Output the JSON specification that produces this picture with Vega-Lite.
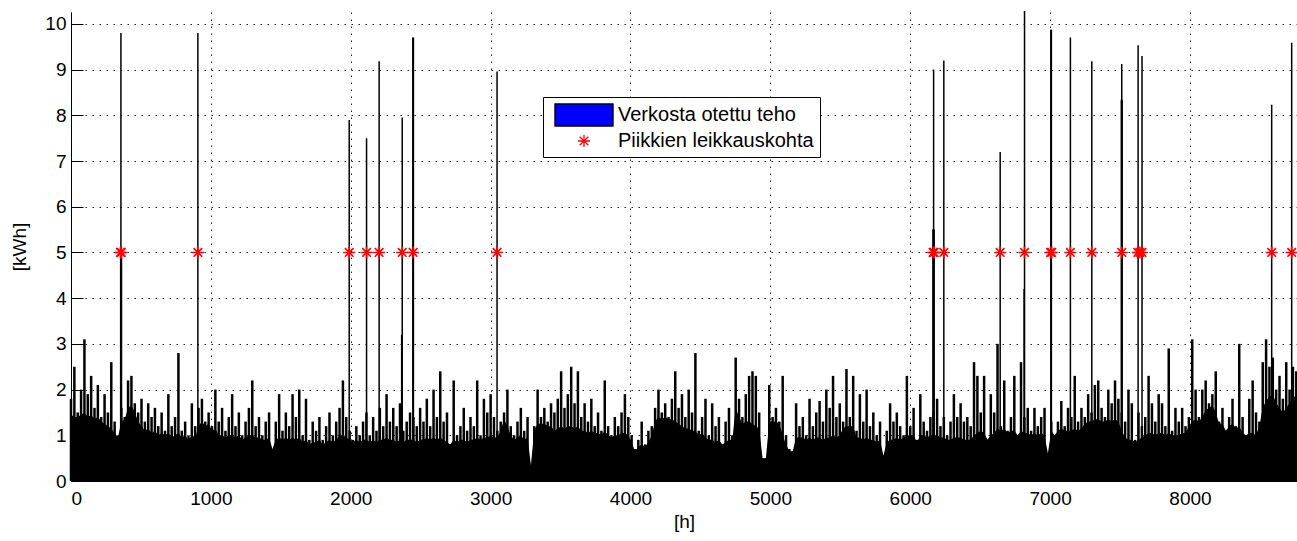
{
  "$schema": "https://vega.github.io/schema/vega-lite/v6.json",
  "width": 1226,
  "height": 469,
  "autosize": {"type": "none"},
  "padding": {"left": 71, "top": 12, "right": 0, "bottom": 60},
  "background": "white",
  "datasets": {
    "hourly": [
      {"h":0,"hi":1.8,"lo":1.45},{"h":24,"hi":2.5,"lo":1.4},{"h":48,"hi":1.5,"lo":1.4},{"h":72,"hi":2.0,"lo":1.45},{"h":96,"hi":3.1,"lo":1.5},{"h":120,"hi":1.9,"lo":1.4},{"h":144,"hi":2.3,"lo":1.45},{"h":168,"hi":1.6,"lo":1.35},{"h":192,"hi":2.1,"lo":1.4},{"h":216,"hi":1.4,"lo":1.3},
      {"h":240,"hi":1.9,"lo":1.25},{"h":264,"hi":1.5,"lo":1.2},{"h":288,"hi":2.6,"lo":1.15},{"h":312,"hi":1.3,"lo":1.05},{"h":336,"hi":1.0,"lo":0.95},{"h":360,"hi":1.6,"lo":1.3},{"h":384,"hi":1.4,"lo":1.35},{"h":408,"hi":2.2,"lo":1.6},{"h":432,"hi":2.3,"lo":1.65},{"h":456,"hi":1.7,"lo":1.5},
      {"h":480,"hi":1.5,"lo":1.3},{"h":504,"hi":1.8,"lo":1.2},{"h":528,"hi":1.3,"lo":1.1},{"h":552,"hi":1.7,"lo":1.15},{"h":576,"hi":1.4,"lo":1.05},{"h":600,"hi":1.6,"lo":1.1},{"h":624,"hi":1.2,"lo":1.0},{"h":648,"hi":1.5,"lo":1.05},{"h":672,"hi":1.1,"lo":1.0},{"h":696,"hi":1.9,"lo":1.05},
      {"h":720,"hi":1.2,"lo":0.95},{"h":744,"hi":1.4,"lo":1.0},{"h":768,"hi":2.8,"lo":1.05},{"h":792,"hi":1.1,"lo":0.95},{"h":816,"hi":1.3,"lo":1.0},{"h":840,"hi":1.0,"lo":0.9},{"h":864,"hi":1.7,"lo":1.0},{"h":888,"hi":1.2,"lo":0.95},{"h":912,"hi":1.6,"lo":1.2},{"h":936,"hi":1.8,"lo":1.3},
      {"h":960,"hi":1.3,"lo":1.2},{"h":984,"hi":1.5,"lo":1.25},{"h":1008,"hi":1.2,"lo":1.1},{"h":1032,"hi":2.0,"lo":1.15},{"h":1056,"hi":1.3,"lo":1.0},{"h":1080,"hi":1.6,"lo":1.0},{"h":1104,"hi":1.1,"lo":0.95},{"h":1128,"hi":1.4,"lo":1.0},{"h":1152,"hi":1.9,"lo":1.0},{"h":1176,"hi":1.2,"lo":0.95},
      {"h":1200,"hi":1.5,"lo":1.0},{"h":1224,"hi":1.0,"lo":0.9},{"h":1248,"hi":1.3,"lo":0.95},{"h":1272,"hi":1.6,"lo":1.0},{"h":1296,"hi":2.2,"lo":1.0},{"h":1320,"hi":1.2,"lo":0.95},{"h":1344,"hi":1.4,"lo":0.95},{"h":1368,"hi":1.0,"lo":0.9},{"h":1392,"hi":1.3,"lo":0.9},{"h":1416,"hi":1.5,"lo":0.95},
      {"h":1440,"hi":0.7,"lo":0.7},{"h":1464,"hi":1.3,"lo":0.9},{"h":1488,"hi":1.9,"lo":0.95},{"h":1512,"hi":1.1,"lo":0.9},{"h":1536,"hi":1.5,"lo":0.95},{"h":1560,"hi":1.2,"lo":0.9},{"h":1584,"hi":1.9,"lo":0.95},{"h":1608,"hi":1.4,"lo":0.9},{"h":1632,"hi":2.0,"lo":0.95},{"h":1656,"hi":1.0,"lo":0.85},
      {"h":1680,"hi":1.8,"lo":0.9},{"h":1704,"hi":0.9,"lo":0.8},{"h":1728,"hi":1.3,"lo":0.85},{"h":1752,"hi":1.1,"lo":0.85},{"h":1776,"hi":1.4,"lo":0.9},{"h":1800,"hi":0.9,"lo":0.8},{"h":1824,"hi":1.2,"lo":0.85},{"h":1848,"hi":1.5,"lo":0.9},{"h":1872,"hi":1.0,"lo":0.85},{"h":1896,"hi":1.3,"lo":0.9},
      {"h":1920,"hi":1.6,"lo":1.0},{"h":1944,"hi":2.2,"lo":1.0},{"h":1968,"hi":1.4,"lo":0.95},{"h":1992,"hi":1.1,"lo":0.9},{"h":2016,"hi":0.9,"lo":0.85},{"h":2040,"hi":1.2,"lo":0.9},{"h":2064,"hi":1.0,"lo":0.85},{"h":2088,"hi":1.3,"lo":0.9},{"h":2112,"hi":1.5,"lo":0.9},{"h":2136,"hi":1.0,"lo":0.85},
      {"h":2160,"hi":1.4,"lo":0.9},{"h":2184,"hi":1.1,"lo":0.85},{"h":2208,"hi":1.6,"lo":0.9},{"h":2232,"hi":1.2,"lo":0.9},{"h":2256,"hi":1.9,"lo":0.95},{"h":2280,"hi":1.3,"lo":0.9},{"h":2304,"hi":1.6,"lo":0.9},{"h":2328,"hi":1.2,"lo":0.85},{"h":2352,"hi":1.7,"lo":0.9},{"h":2376,"hi":1.1,"lo":0.85},
      {"h":2400,"hi":1.3,"lo":0.9},{"h":2424,"hi":1.5,"lo":0.9},{"h":2448,"hi":1.4,"lo":0.9},{"h":2472,"hi":1.2,"lo":0.85},{"h":2496,"hi":1.6,"lo":0.9},{"h":2520,"hi":1.3,"lo":0.9},{"h":2544,"hi":1.8,"lo":0.95},{"h":2568,"hi":1.2,"lo":0.9},{"h":2592,"hi":2.0,"lo":0.95},{"h":2616,"hi":1.4,"lo":0.9},
      {"h":2640,"hi":2.4,"lo":0.95},{"h":2664,"hi":1.3,"lo":0.9},{"h":2688,"hi":1.5,"lo":0.85},{"h":2712,"hi":0.8,"lo":0.8},{"h":2736,"hi":2.2,"lo":0.9},{"h":2760,"hi":1.0,"lo":0.85},{"h":2784,"hi":1.2,"lo":0.9},{"h":2808,"hi":1.6,"lo":0.9},{"h":2832,"hi":1.1,"lo":0.85},{"h":2856,"hi":1.4,"lo":0.9},
      {"h":2880,"hi":1.2,"lo":0.9},{"h":2904,"hi":2.2,"lo":0.95},{"h":2928,"hi":1.0,"lo":0.9},{"h":2952,"hi":1.8,"lo":0.95},{"h":2976,"hi":1.5,"lo":0.95},{"h":3000,"hi":1.9,"lo":1.0},{"h":3024,"hi":1.4,"lo":0.95},{"h":3048,"hi":1.1,"lo":0.95},{"h":3072,"hi":1.3,"lo":1.1},{"h":3096,"hi":1.5,"lo":1.35},
      {"h":3120,"hi":2.0,"lo":1.2},{"h":3144,"hi":1.2,"lo":1.0},{"h":3168,"hi":1.0,"lo":0.9},{"h":3192,"hi":1.3,"lo":0.95},{"h":3216,"hi":1.6,"lo":1.0},{"h":3240,"hi":1.1,"lo":0.9},{"h":3264,"hi":1.4,"lo":0.95},{"h":3288,"hi":0.35,"lo":0.35},{"h":3312,"hi":1.2,"lo":1.1},{"h":3336,"hi":2.0,"lo":1.25},
      {"h":3360,"hi":1.4,"lo":1.25},{"h":3384,"hi":1.6,"lo":1.25},{"h":3408,"hi":1.3,"lo":1.2},{"h":3432,"hi":1.7,"lo":1.2},{"h":3456,"hi":1.5,"lo":1.1},{"h":3480,"hi":1.8,"lo":1.15},{"h":3504,"hi":2.4,"lo":1.2},{"h":3528,"hi":1.6,"lo":1.15},{"h":3552,"hi":1.9,"lo":1.2},{"h":3576,"hi":2.5,"lo":1.2},
      {"h":3600,"hi":1.7,"lo":1.15},{"h":3624,"hi":2.4,"lo":1.2},{"h":3648,"hi":1.4,"lo":1.1},{"h":3672,"hi":1.7,"lo":1.1},{"h":3696,"hi":1.3,"lo":1.05},{"h":3720,"hi":1.8,"lo":1.1},{"h":3744,"hi":1.2,"lo":1.05},{"h":3768,"hi":1.5,"lo":1.05},{"h":3792,"hi":1.1,"lo":1.0},{"h":3816,"hi":2.2,"lo":1.1},
      {"h":3840,"hi":1.2,"lo":1.0},{"h":3864,"hi":1.0,"lo":0.95},{"h":3888,"hi":1.4,"lo":1.0},{"h":3912,"hi":1.2,"lo":1.0},{"h":3936,"hi":1.5,"lo":1.05},{"h":3960,"hi":1.9,"lo":1.05},{"h":3984,"hi":1.4,"lo":1.0},{"h":4008,"hi":1.0,"lo":0.85},{"h":4032,"hi":0.7,"lo":0.65},{"h":4056,"hi":0.9,"lo":0.75},
      {"h":4080,"hi":1.3,"lo":0.8},{"h":4104,"hi":0.8,"lo":0.75},{"h":4128,"hi":1.1,"lo":0.85},{"h":4152,"hi":1.2,"lo":1.0},{"h":4176,"hi":1.6,"lo":1.3},{"h":4200,"hi":2.0,"lo":1.4},{"h":4224,"hi":1.5,"lo":1.35},{"h":4248,"hi":1.7,"lo":1.4},{"h":4272,"hi":1.4,"lo":1.35},{"h":4296,"hi":1.8,"lo":1.35},
      {"h":4320,"hi":2.4,"lo":1.3},{"h":4344,"hi":1.6,"lo":1.25},{"h":4368,"hi":1.9,"lo":1.2},{"h":4392,"hi":1.4,"lo":1.15},{"h":4416,"hi":2.0,"lo":1.15},{"h":4440,"hi":1.5,"lo":1.1},{"h":4464,"hi":2.8,"lo":1.1},{"h":4488,"hi":1.1,"lo":1.0},{"h":4512,"hi":1.4,"lo":1.05},{"h":4536,"hi":1.8,"lo":0.95},
      {"h":4560,"hi":1.0,"lo":0.9},{"h":4584,"hi":1.7,"lo":0.9},{"h":4608,"hi":1.2,"lo":0.85},{"h":4632,"hi":1.4,"lo":0.9},{"h":4656,"hi":0.8,"lo":0.8},{"h":4680,"hi":1.3,"lo":0.85},{"h":4704,"hi":1.6,"lo":0.9},{"h":4728,"hi":1.0,"lo":0.9},{"h":4752,"hi":2.7,"lo":1.6},{"h":4776,"hi":1.8,"lo":1.4},
      {"h":4800,"hi":1.4,"lo":1.25},{"h":4824,"hi":1.9,"lo":1.3},{"h":4848,"hi":2.3,"lo":1.3},{"h":4872,"hi":2.4,"lo":1.25},{"h":4896,"hi":2.3,"lo":1.2},{"h":4920,"hi":1.5,"lo":1.15},{"h":4944,"hi":0.5,"lo":0.5},{"h":4968,"hi":0.5,"lo":0.5},{"h":4992,"hi":2.1,"lo":1.3},{"h":5016,"hi":1.4,"lo":1.3},
      {"h":5040,"hi":1.6,"lo":1.3},{"h":5064,"hi":1.3,"lo":1.25},{"h":5088,"hi":2.3,"lo":1.0},{"h":5112,"hi":1.0,"lo":0.8},{"h":5136,"hi":0.7,"lo":0.65},{"h":5160,"hi":0.65,"lo":0.65},{"h":5184,"hi":1.7,"lo":0.95},{"h":5208,"hi":1.2,"lo":0.95},{"h":5232,"hi":1.4,"lo":0.95},{"h":5256,"hi":1.0,"lo":0.9},
      {"h":5280,"hi":1.8,"lo":0.95},{"h":5304,"hi":1.2,"lo":0.9},{"h":5328,"hi":1.5,"lo":0.95},{"h":5352,"hi":1.75,"lo":0.95},{"h":5376,"hi":1.3,"lo":0.9},{"h":5400,"hi":2.0,"lo":0.95},{"h":5424,"hi":1.6,"lo":0.95},{"h":5448,"hi":2.3,"lo":1.0},{"h":5472,"hi":1.4,"lo":0.95},{"h":5496,"hi":1.7,"lo":1.0},
      {"h":5520,"hi":1.3,"lo":1.15},{"h":5544,"hi":2.45,"lo":1.2},{"h":5568,"hi":1.4,"lo":1.2},{"h":5592,"hi":2.3,"lo":1.2},{"h":5616,"hi":1.1,"lo":0.95},{"h":5640,"hi":1.9,"lo":0.95},{"h":5664,"hi":1.3,"lo":0.9},{"h":5688,"hi":2.0,"lo":0.95},{"h":5712,"hi":1.2,"lo":0.9},{"h":5736,"hi":1.5,"lo":0.9},
      {"h":5760,"hi":1.0,"lo":0.85},{"h":5784,"hi":1.3,"lo":0.9},{"h":5808,"hi":0.55,"lo":0.55},{"h":5832,"hi":1.1,"lo":0.85},{"h":5856,"hi":1.7,"lo":0.9},{"h":5880,"hi":1.3,"lo":0.9},{"h":5904,"hi":1.5,"lo":0.95},{"h":5928,"hi":1.2,"lo":0.9},{"h":5952,"hi":1.0,"lo":0.95},{"h":5976,"hi":2.3,"lo":1.0},
      {"h":6000,"hi":1.2,"lo":1.0},{"h":6024,"hi":1.6,"lo":1.0},{"h":6048,"hi":0.9,"lo":0.85},{"h":6072,"hi":1.9,"lo":1.0},{"h":6096,"hi":1.3,"lo":1.0},{"h":6120,"hi":1.1,"lo":0.95},{"h":6144,"hi":1.4,"lo":1.0},{"h":6168,"hi":1.5,"lo":1.0},{"h":6192,"hi":1.8,"lo":1.0},{"h":6216,"hi":1.2,"lo":0.95},
      {"h":6240,"hi":1.4,"lo":0.95},{"h":6264,"hi":1.0,"lo":0.9},{"h":6288,"hi":1.3,"lo":0.9},{"h":6312,"hi":1.9,"lo":0.95},{"h":6336,"hi":1.4,"lo":0.95},{"h":6360,"hi":1.7,"lo":0.95},{"h":6384,"hi":1.3,"lo":0.9},{"h":6408,"hi":1.4,"lo":0.9},{"h":6432,"hi":1.2,"lo":0.9},{"h":6456,"hi":2.6,"lo":1.0},
      {"h":6480,"hi":2.3,"lo":1.05},{"h":6504,"hi":1.5,"lo":1.1},{"h":6528,"hi":2.3,"lo":1.05},{"h":6552,"hi":0.9,"lo":0.9},{"h":6576,"hi":1.9,"lo":1.0},{"h":6600,"hi":1.5,"lo":1.05},{"h":6624,"hi":3.0,"lo":1.15},{"h":6648,"hi":1.2,"lo":1.1},{"h":6672,"hi":2.2,"lo":1.15},{"h":6696,"hi":1.1,"lo":1.05},
      {"h":6720,"hi":1.4,"lo":1.1},{"h":6744,"hi":2.3,"lo":1.1},{"h":6768,"hi":1.0,"lo":1.0},{"h":6792,"hi":2.6,"lo":1.1},{"h":6816,"hi":1.4,"lo":1.05},{"h":6840,"hi":1.6,"lo":1.05},{"h":6864,"hi":1.1,"lo":1.0},{"h":6888,"hi":1.6,"lo":1.05},{"h":6912,"hi":1.2,"lo":1.0},{"h":6936,"hi":1.4,"lo":1.05},
      {"h":6960,"hi":1.6,"lo":1.0},{"h":6984,"hi":0.6,"lo":0.6},{"h":7008,"hi":1.3,"lo":1.1},{"h":7032,"hi":1.0,"lo":1.0},{"h":7056,"hi":1.3,"lo":1.1},{"h":7080,"hi":1.75,"lo":1.15},{"h":7104,"hi":1.2,"lo":1.1},{"h":7128,"hi":1.6,"lo":1.1},{"h":7152,"hi":1.4,"lo":1.1},{"h":7176,"hi":2.3,"lo":1.15},
      {"h":7200,"hi":1.3,"lo":1.1},{"h":7224,"hi":1.6,"lo":1.15},{"h":7248,"hi":1.4,"lo":1.25},{"h":7272,"hi":1.9,"lo":1.3},{"h":7296,"hi":1.5,"lo":1.3},{"h":7320,"hi":2.1,"lo":1.35},{"h":7344,"hi":2.2,"lo":1.35},{"h":7368,"hi":1.6,"lo":1.3},{"h":7392,"hi":1.4,"lo":1.3},{"h":7416,"hi":2.0,"lo":1.35},
      {"h":7440,"hi":1.7,"lo":1.3},{"h":7464,"hi":2.2,"lo":1.35},{"h":7488,"hi":1.8,"lo":1.3},{"h":7512,"hi":1.5,"lo":1.1},{"h":7536,"hi":1.3,"lo":0.95},{"h":7560,"hi":2.0,"lo":0.9},{"h":7584,"hi":1.7,"lo":0.9},{"h":7608,"hi":0.9,"lo":0.85},{"h":7632,"hi":1.5,"lo":0.9},{"h":7656,"hi":1.2,"lo":0.95},
      {"h":7680,"hi":1.4,"lo":1.0},{"h":7704,"hi":2.3,"lo":1.05},{"h":7728,"hi":1.7,"lo":1.05},{"h":7752,"hi":1.3,"lo":1.0},{"h":7776,"hi":1.9,"lo":1.05},{"h":7800,"hi":1.7,"lo":1.05},{"h":7824,"hi":1.2,"lo":1.0},{"h":7848,"hi":2.9,"lo":1.05},{"h":7872,"hi":1.1,"lo":1.0},{"h":7896,"hi":1.6,"lo":1.0},
      {"h":7920,"hi":1.3,"lo":1.0},{"h":7944,"hi":1.6,"lo":1.05},{"h":7968,"hi":1.2,"lo":1.05},{"h":7992,"hi":1.4,"lo":1.2},{"h":8016,"hi":3.1,"lo":1.3},{"h":8040,"hi":2.0,"lo":1.35},{"h":8064,"hi":1.4,"lo":1.3},{"h":8088,"hi":2.0,"lo":1.4},{"h":8112,"hi":2.2,"lo":1.55},{"h":8136,"hi":1.7,"lo":1.6},
      {"h":8160,"hi":1.9,"lo":1.65},{"h":8184,"hi":2.4,"lo":1.5},{"h":8208,"hi":1.3,"lo":1.25},{"h":8232,"hi":1.6,"lo":1.25},{"h":8256,"hi":1.1,"lo":1.1},{"h":8280,"hi":1.4,"lo":1.2},{"h":8304,"hi":1.8,"lo":1.25},{"h":8328,"hi":1.2,"lo":1.15},{"h":8352,"hi":3.0,"lo":1.2},{"h":8376,"hi":1.4,"lo":1.05},
      {"h":8400,"hi":1.0,"lo":1.0},{"h":8424,"hi":1.8,"lo":1.05},{"h":8448,"hi":2.2,"lo":1.05},{"h":8472,"hi":1.5,"lo":1.0},{"h":8496,"hi":1.3,"lo":1.2},{"h":8520,"hi":2.6,"lo":1.6},{"h":8544,"hi":3.1,"lo":1.75},{"h":8568,"hi":2.5,"lo":1.85},{"h":8592,"hi":2.7,"lo":1.9},{"h":8616,"hi":2.0,"lo":1.7},
      {"h":8640,"hi":2.3,"lo":1.6},{"h":8664,"hi":1.8,"lo":1.5},{"h":8688,"hi":2.6,"lo":1.6},{"h":8712,"hi":2.0,"lo":1.7},{"h":8736,"hi":2.5,"lo":1.8},{"h":8760,"hi":2.4,"lo":1.9}
    ],
    "peaks": [
      {"h":355,"kwh":5.0},{"h":357,"kwh":9.8},{"h":361,"kwh":5.0},
      {"h":907,"kwh":9.8},
      {"h":1989,"kwh":7.9},
      {"h":2113,"kwh":7.5},
      {"h":2203,"kwh":9.18},
      {"h":2364,"kwh":3.2},{"h":2368,"kwh":7.95},
      {"h":2444,"kwh":9.7},{"h":2448,"kwh":9.7},
      {"h":3046,"kwh":8.96},
      {"h":6162,"kwh":5.5},{"h":6167,"kwh":9.0},{"h":6171,"kwh":5.5},
      {"h":6240,"kwh":9.2},
      {"h":6643,"kwh":7.2},
      {"h":6814,"kwh":4.2},{"h":6817,"kwh":10.28},
      {"h":7005,"kwh":9.87},{"h":7009,"kwh":9.87},
      {"h":7145,"kwh":9.7},
      {"h":7298,"kwh":9.18},
      {"h":7509,"kwh":8.34},{"h":7512,"kwh":9.12},{"h":7515,"kwh":8.34},
      {"h":7629,"kwh":9.53},
      {"h":7657,"kwh":9.3},
      {"h":8584,"kwh":8.23},
      {"h":8727,"kwh":9.59}
    ],
    "cuts": [
      {"h":354,"kwh":5,"series":"Piikkien leikkauskohta"},{"h":360,"kwh":5,"series":"Piikkien leikkauskohta"},
      {"h":907,"kwh":5,"series":"Piikkien leikkauskohta"},
      {"h":1989,"kwh":5,"series":"Piikkien leikkauskohta"},
      {"h":2113,"kwh":5,"series":"Piikkien leikkauskohta"},
      {"h":2203,"kwh":5,"series":"Piikkien leikkauskohta"},
      {"h":2368,"kwh":5,"series":"Piikkien leikkauskohta"},
      {"h":2446,"kwh":5,"series":"Piikkien leikkauskohta"},
      {"h":3046,"kwh":5,"series":"Piikkien leikkauskohta"},
      {"h":6163,"kwh":5,"series":"Piikkien leikkauskohta"},{"h":6171,"kwh":5,"series":"Piikkien leikkauskohta"},
      {"h":6240,"kwh":5,"series":"Piikkien leikkauskohta"},
      {"h":6643,"kwh":5,"series":"Piikkien leikkauskohta"},
      {"h":6817,"kwh":5,"series":"Piikkien leikkauskohta"},
      {"h":7003,"kwh":5,"series":"Piikkien leikkauskohta"},{"h":7011,"kwh":5,"series":"Piikkien leikkauskohta"},
      {"h":7145,"kwh":5,"series":"Piikkien leikkauskohta"},
      {"h":7298,"kwh":5,"series":"Piikkien leikkauskohta"},
      {"h":7512,"kwh":5,"series":"Piikkien leikkauskohta"},
      {"h":7627,"kwh":5,"series":"Piikkien leikkauskohta"},{"h":7642,"kwh":5,"series":"Piikkien leikkauskohta"},{"h":7657,"kwh":5,"series":"Piikkien leikkauskohta"},
      {"h":8584,"kwh":5,"series":"Piikkien leikkauskohta"},
      {"h":8727,"kwh":5,"series":"Piikkien leikkauskohta"}
    ]
  },
  "layer": [
    {
      "data": {"name": "hourly"},
      "mark": {"type": "area", "color": "black", "interpolate": "linear"},
      "encoding": {
        "x": {"field": "h", "type": "quantitative",
              "scale": {"domain": [0, 8765], "nice": false, "zero": false},
              "axis": {"title": "[h]", "values": [0,1000,2000,3000,4000,5000,6000,7000,8000], "format": "d", "labelPadding": 20, "titlePadding": 4}},
        "y": {"field": "lo", "type": "quantitative",
              "scale": {"domain": [0, 10.26], "nice": false},
              "axis": {"title": "[kWh]", "values": [0,1,2,3,4,5,6,7,8,9,10], "format": "d", "labelPadding": 17, "titlePadding": 15}}
      }
    },
    {
      "data": {"name": "hourly"},
      "mark": {"type": "rule", "color": "black", "strokeWidth": 2.5},
      "encoding": {
        "x": {"field": "h", "type": "quantitative",
              "axis": {"title": "[h]", "values": [0,1000,2000,3000,4000,5000,6000,7000,8000], "format": "d", "labelPadding": 20, "titlePadding": 4}},
        "y": {"field": "hi", "type": "quantitative",
              "axis": {"title": "[kWh]", "values": [0,1,2,3,4,5,6,7,8,9,10], "format": "d", "labelPadding": 17, "titlePadding": 15}},
        "y2": {"datum": 0}
      }
    },
    {
      "data": {"name": "peaks"},
      "mark": {"type": "rule", "color": "black", "strokeWidth": 1.5},
      "encoding": {
        "x": {"field": "h", "type": "quantitative",
              "axis": {"title": "[h]", "values": [0,1000,2000,3000,4000,5000,6000,7000,8000], "format": "d", "labelPadding": 20, "titlePadding": 4}},
        "y": {"field": "kwh", "type": "quantitative",
              "axis": {"title": "[kWh]", "values": [0,1,2,3,4,5,6,7,8,9,10], "format": "d", "labelPadding": 17, "titlePadding": 15}},
        "y2": {"datum": 0}
      }
    },
    {
      "data": {"name": "cuts"},
      "mark": {"type": "point", "strokeWidth": 1.6, "opacity": 1, "size": 484},
      "encoding": {
        "x": {"field": "h", "type": "quantitative",
              "axis": {"title": "[h]", "values": [0,1000,2000,3000,4000,5000,6000,7000,8000], "format": "d", "labelPadding": 20, "titlePadding": 4}},
        "y": {"field": "kwh", "type": "quantitative",
              "axis": {"title": "[kWh]", "values": [0,1,2,3,4,5,6,7,8,9,10], "format": "d", "labelPadding": 17, "titlePadding": 15}},
        "stroke": {"field": "series", "type": "nominal",
                  "scale": {"domain": ["Verkosta otettu teho", "Piikkien leikkauskohta"], "range": ["#000000", "#ff0000"]},
                  "legend": {"orient": "none", "legendX": 472, "legendY": 85, "title": null,
                    "fillColor": "white", "strokeColor": "black", "padding": 6,
                    "labelFont": "Liberation Sans", "labelFontSize": 20, "labelColor": "black",
                    "labelOffset": 22, "labelLimit": 400, "rowPadding": 0,
                    "symbolSize": 484, "symbolStrokeWidth": 1.3, "symbolOffset": 23}},
        "fill": {"field": "series", "type": "nominal",
                  "scale": {"domain": ["Verkosta otettu teho", "Piikkien leikkauskohta"], "range": ["#0000ff", "transparent"]},
                  "legend": {"orient": "none", "legendX": 472, "legendY": 85, "title": null,
                    "fillColor": "white", "strokeColor": "black", "padding": 6,
                    "labelFont": "Liberation Sans", "labelFontSize": 20, "labelColor": "black",
                    "labelOffset": 22, "labelLimit": 400, "rowPadding": 0,
                    "symbolSize": 484, "symbolStrokeWidth": 1.3, "symbolOffset": 23}},
        "shape": {"field": "series", "type": "nominal",
                  "scale": {"domain": ["Verkosta otettu teho", "Piikkien leikkauskohta"],
                            "range": ["M-2.64,-1H2.64V1H-2.64Z", "M-0.55,0H0.55M0,-0.55V0.55M-0.39,-0.39L0.39,0.39M-0.39,0.39L0.39,-0.39"]},
                  "legend": {"orient": "none", "legendX": 472, "legendY": 85, "title": null,
                    "fillColor": "white", "strokeColor": "black", "padding": 6,
                    "labelFont": "Liberation Sans", "labelFontSize": 20, "labelColor": "black",
                    "labelOffset": 22, "labelLimit": 400, "rowPadding": 0,
                    "symbolSize": 484, "symbolStrokeWidth": 1.3, "symbolOffset": 23}}
      }
    }
  ],
  "config": {
    "view": {"stroke": null},
    "axis": {
      "domainColor": "black", "domainWidth": 1,
      "tickColor": "black", "tickSize": -12, "tickWidth": 1,
      "labelColor": "black", "titleColor": "black",
      "labelFont": "Liberation Sans", "titleFont": "Liberation Sans",
      "labelFontSize": 19, "titleFontSize": 19, "titleFontWeight": "normal",
      "grid": true, "gridColor": "black", "gridDash": [1.5, 5.5], "gridOpacity": 0.85, "gridWidth": 1
    }
  }
}
